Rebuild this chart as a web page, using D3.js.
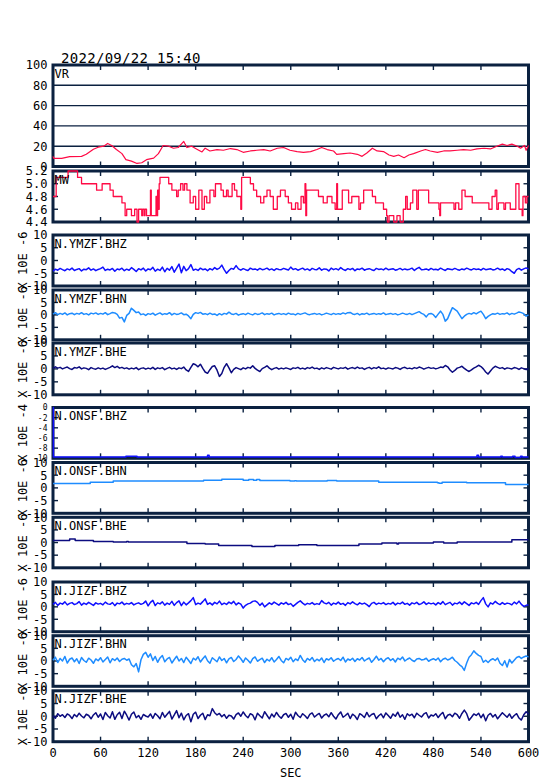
<!DOCTYPE html>
<html><head><meta charset="utf-8">
<script src="https://cdn.jsdelivr.net/npm/d3@7"></script>
<style>
body{margin:0;background:#fff;}
text{font-family:"DejaVu Sans Mono",monospace;}
</style>
</head><body>
<svg id="chart" width="554" height="781"></svg>
<script>
// ---------------- DATA ----------------
const titleText = "2022/09/22 15:40";
const xTickValues = [0,60,120,180,240,300,360,420,480,540,600];
const xLabel = "SEC";

const vrTicks = [0,20,40,60,80,100];
const mwTicks = [4.4,4.6,4.8,5.0,5.2];
const seisTicks = [-10,-5,0,5,10];
const onsfZTicks = [-10,-8,-6,-4,-2,0];

const vrTime = [0,1,11,21,36,42,51,57,64,69,74,80,87,92,99,106,112,118,127,133,139,146,152,158,165,169,175,181,188,192,198,207,215,224,232,240,249,257,266,274,283,291,299,308,316,325,333,339,346,354,358,367,375,384,390,396,403,409,417,424,430,436,443,449,455,464,470,476,485,493,501,510,518,527,535,544,552,560,567,573,579,586,590,595,597,600];
const vrValue = [10,8,8,9.7,10,12,17,19,20,22.7,20.7,16.7,12.7,6.7,5.3,3,3.7,6.7,8.3,12.7,20.7,20,18,18.7,24.7,18.7,20,17.3,14.3,18,15.3,16.7,16,17.7,16.7,14,15.3,16,16.7,15.3,18,18.7,16,14.7,14,14.7,16.7,18.7,16.7,15.3,12,12.7,13.3,12,10,13.3,18,15.3,14.7,11.3,10,11.3,8.7,11.3,12.7,15.3,16.7,15.3,14,15.3,15.3,16,16.7,16,17.3,18,17.3,20,22,20.7,22,20,18,20.7,16,20.7];

const mwTime = [0,4,19,31,36,55,62,72,76,87,91,93,99,103,106,108,112,113,115,116,118,123,124,130,131,132,133,134,135,146,150,156,158,161,164,166,169,173,177,180,184,188,191,194,198,203,205,212,215,219,221,226,229,232,237,238,249,253,257,262,266,270,274,278,283,287,293,297,301,306,309,313,316,318,319,320,335,341,346,352,356,358,359,365,373,377,386,388,392,403,407,417,421,422,424,430,434,438,442,445,447,451,454,459,461,474,487,488,489,506,508,512,516,520,529,550,554,558,560,562,569,571,577,584,588,592,593,596,598,600];
const mwValue = [4.8,5.1,5.2,5.1,5.0,4.9,5.0,4.9,4.8,4.7,4.5,4.6,4.5,4.6,4.4,4.6,4.5,4.6,4.5,4.6,4.5,4.9,4.5,4.8,4.5,4.9,4.6,5.0,5.1,5.0,4.9,4.8,4.9,5.0,4.9,5.0,4.9,4.7,4.8,4.6,4.9,4.6,4.8,4.7,4.9,4.8,5.0,4.9,4.8,4.9,4.8,5.0,4.9,4.8,4.6,5.1,5.0,4.9,4.8,4.7,4.8,4.9,4.8,4.6,4.8,4.9,4.8,4.7,4.6,4.7,4.6,4.8,4.7,5.0,4.5,4.9,4.8,4.7,4.8,4.7,4.6,5.0,4.6,4.9,4.7,4.8,4.6,4.7,4.9,4.8,4.7,4.6,4.5,4.4,4.5,4.4,4.5,4.4,4.6,4.8,4.6,4.7,4.9,4.6,4.9,4.7,4.6,4.5,4.7,4.6,4.7,4.6,4.9,4.8,4.7,4.6,4.8,4.9,4.6,4.7,4.6,4.7,4.6,5.0,4.6,4.5,4.8,4.7,4.8,4.8];

// seismograms sampled every 3 s (x 10E-6)
const ymzfBHZ = [-4.2,-3.4,-3.8,-3.1,-3.6,-4.0,-3.3,-3.7,-3.0,-3.9,-3.5,-3.2,-4.1,-3.4,-3.6,-2.9,-3.8,-3.3,-4.0,-3.5,
-3.2,-2.6,-3.9,-3.4,-3.7,-3.1,-4.2,-3.3,-3.6,-3.0,-4.0,-3.4,-3.8,-2.8,-3.5,-4.3,-3.2,-3.7,-3.0,-4.1,
-3.3,-3.6,-2.7,-4.2,-3.4,-3.9,-2.6,-4.4,-3.1,-3.8,-2.4,-4.6,-3.0,-1.4,-4.8,-2.3,-4.0,-3.2,-1.6,-3.8,
-3.4,-3.9,-3.0,-3.6,-3.3,-4.0,-3.2,-3.7,-2.8,-3.5,-3.0,-1.8,-3.6,-5.0,-3.9,-3.1,-3.4,-2.0,-3.3,-3.8,
-3.2,-3.6,-3.9,-3.0,-3.5,-3.3,-3.8,-3.1,-3.6,-3.4,-3.0,-3.7,-3.3,-3.9,-3.2,-3.5,-3.6,-3.1,-3.4,-3.7,
-2.6,-3.5,-3.2,-3.8,-3.4,-3.0,-3.7,-3.3,-3.9,-3.1,-3.5,-3.6,-2.9,-3.8,-3.3,-3.4,-4.1,-3.0,-3.6,-3.2,
-3.7,-2.8,-3.5,-3.9,-3.2,-3.6,-3.1,-4.0,-3.3,-3.5,-3.0,-3.8,-3.4,-3.2,-3.6,-3.9,-3.1,-3.5,-3.3,-3.7,
-3.0,-3.6,-3.4,-3.2,-3.8,-3.5,-3.1,-3.7,-3.3,-3.6,-3.4,-3.0,-3.9,-3.2,-2.7,-3.6,-3.5,-3.3,-3.8,-3.1,
-3.6,-3.4,-3.7,-3.0,-3.5,-3.9,-3.2,-3.4,-3.6,-3.1,-3.5,-3.8,-3.3,-3.6,-3.0,-3.4,-3.7,-3.2,-3.5,-3.3,
-3.8,-3.1,-3.6,-3.4,-3.2,-3.7,-3.5,-3.0,-3.6,-3.3,-3.9,-3.2,-3.5,-4.4,-5.0,-3.6,-3.1,-3.8,-3.3,-2.9,-3.4];
const ymzfBHN = [0.3,0.9,0.1,0.6,0.2,0.8,0.0,0.5,0.7,0.1,0.6,0.3,0.9,0.2,0.5,0.0,0.7,0.4,0.8,0.2,
0.6,0.3,0.9,0.1,0.5,1.0,0.8,0.2,-1.3,-1.0,-2.8,-0.2,0.6,2.7,1.8,0.9,1.2,0.1,0.4,-0.2,
0.5,0.2,0.7,-0.1,0.4,0.8,0.1,0.5,0.3,0.9,0.0,0.6,0.2,0.4,0.8,0.1,0.3,-0.4,-1.5,0.2,
0.9,0.6,1.0,0.3,0.5,0.1,0.7,0.2,0.4,-0.2,0.5,0.0,0.6,0.3,1.1,0.4,0.2,0.6,-0.1,0.3,
0.5,0.1,0.7,0.3,0.0,0.6,0.2,0.4,0.8,0.1,0.5,0.3,0.7,0.0,0.4,0.6,0.2,0.5,0.1,0.7,
0.3,0.4,0.0,0.6,0.2,0.5,0.8,0.3,0.1,0.4,0.6,0.2,0.5,0.0,0.3,0.7,0.4,0.1,0.6,0.2,
0.5,0.3,0.8,0.4,0.9,1.0,0.4,0.2,0.6,0.0,0.5,0.3,0.7,0.1,0.4,0.6,0.2,0.5,0.3,0.8,
0.1,0.4,0.6,0.2,0.5,0.0,0.3,0.7,0.4,0.2,0.6,0.1,0.5,0.9,1.3,0.6,0.2,-0.8,0.4,0.6,
0.1,-1.0,0.3,1.5,0.2,-2.5,-1.5,0.8,2.9,2.2,1.5,0.0,-1.5,-0.5,0.2,0.6,0.3,0.9,0.4,1.0,
1.5,0.2,-1.5,-0.6,0.0,0.5,0.3,0.7,0.2,0.5,0.4,0.8,0.1,0.6,0.3,0.7,1.2,0.9,0.5,-0.5,0.0];
const ymzfBHE = [0.2,0.8,0.3,0.6,0.0,0.4,0.7,0.1,-0.2,0.5,0.3,0.8,0.0,0.4,0.2,-0.3,0.5,0.1,-0.1,0.4,
0.0,0.3,-0.2,0.2,0.6,1.2,0.5,1.0,0.3,0.6,0.1,0.4,-0.1,0.3,0.0,0.5,-0.3,0.2,0.4,-0.1,
0.3,0.0,0.6,-0.2,0.4,0.1,0.5,-0.3,0.2,0.6,0.0,0.3,-0.2,0.4,0.1,0.7,-0.4,-1.0,0.6,2.0,
1.6,0.8,1.8,0.2,-1.2,-1.7,-0.3,0.9,1.2,-0.5,-2.9,-1.8,0.6,2.0,0.4,-1.5,-0.2,0.5,0.1,-0.3,
0.4,0.0,0.6,0.3,1.2,0.2,-0.5,-1.0,0.1,0.6,1.2,0.3,-0.3,0.2,0.5,-0.1,0.3,0.0,0.4,0.1,
-0.2,0.4,0.2,0.6,0.0,0.3,-0.1,0.5,0.2,0.7,0.1,0.3,-0.2,0.4,0.0,0.5,0.2,-0.1,0.6,0.3,
0.0,0.4,0.2,0.6,-0.1,0.3,0.5,0.1,0.7,0.2,0.4,-0.2,0.3,0.6,0.0,0.5,0.2,0.8,0.1,0.3,
-0.1,0.4,0.2,0.0,0.5,0.3,-0.2,0.4,0.6,0.1,0.3,0.0,0.5,0.2,0.7,0.4,-0.1,0.3,0.6,0.2,
0.4,0.0,0.3,0.7,0.5,1.3,0.8,-0.4,-1.3,-0.6,0.3,0.6,1.0,0.2,-0.5,-1.0,-0.4,0.3,0.8,1.4,
0.9,0.0,-1.2,-2.0,-0.8,0.3,1.0,0.6,0.2,0.5,-0.1,0.4,0.2,0.0,0.5,0.3,-0.2,0.4,0.1,-0.3,0.2];

// N.ONSF (piecewise, time in s): BHZ in x 10E-4, others x 10E-6
const onsfBHZTime = [0,0.5,92,106,195,197,535,537,565,567,580,583,590,592,600];
const onsfBHZ = [0,-9.75,-9.6,-9.75,-9.4,-9.75,-9.4,-9.75,-9.6,-9.75,-9.6,-9.85,-9.6,-9.75,-9.75];
const onsfBHNTime = [0,47,76,190,213,240,247,253,257,261,299,305,307,346,358,411,485,487,491,522,525,571,600];
const onsfBHN = [1.75,2.27,2.67,3.06,3.45,3.06,3.3,3.06,3.3,2.93,2.67,2.85,2.67,2.93,2.67,2.27,2.0,1.8,2.27,2.0,2.0,1.36,1.36];
const onsfBHETime = [0,21,28,51,76,93,95,122,169,192,209,251,280,310,333,386,415,434,436,480,493,510,579,600];
const onsfBHE = [0.84,1.36,0.84,0.44,0.18,0.44,0.18,0.18,-0.35,-0.6,-1.13,-1.52,-1.13,-0.87,-1.13,-0.6,-0.2,-0.6,-0.2,0.18,-0.2,0.18,1.1,1.1];

const jizfBHZ = [1.0,1.8,0.6,1.5,1.1,2.0,0.8,1.4,1.7,0.9,1.3,2.1,0.7,1.5,1.0,1.8,1.2,0.6,1.6,1.1,
1.4,0.8,1.9,1.2,1.0,1.7,0.5,1.5,1.2,1.9,0.9,1.4,1.1,1.7,0.8,1.3,1.6,1.0,1.4,2.3,
0.4,1.8,2.6,0.5,1.6,1.2,2.0,0.7,1.5,1.0,2.2,0.6,1.7,2.4,0.5,1.9,0.8,1.6,2.5,3.7,
0.9,1.5,1.1,2.1,3.2,1.0,1.6,0.8,1.8,1.2,2.3,0.9,1.5,1.0,1.9,1.3,2.2,0.8,1.6,1.1,
-0.5,0.6,1.2,1.5,2.2,2.4,1.8,0.6,1.5,0.0,0.8,1.6,1.0,1.9,1.3,0.7,1.6,1.1,1.8,0.9,
1.3,0.2,1.0,1.8,2.4,1.5,0.8,1.4,1.1,1.7,0.9,1.3,1.0,2.5,1.6,1.2,1.8,0.7,1.5,1.1,
1.9,1.0,1.4,0.6,1.7,1.2,2.0,1.3,0.8,1.6,1.1,1.5,0.9,0.1,1.4,1.8,1.0,1.5,1.2,1.7,
0.9,1.4,1.1,1.8,0.8,1.5,1.2,1.9,1.0,1.4,0.7,1.6,1.2,1.8,0.9,1.3,2.0,1.0,1.6,1.2,
1.5,0.8,1.7,1.1,2.1,0.9,1.4,1.8,0.7,1.5,1.2,1.9,1.0,2.0,1.3,0.6,1.6,1.2,1.8,1.0,
2.5,3.7,1.2,0.0,1.6,1.1,2.2,1.4,0.9,1.7,1.0,1.5,1.3,0.8,1.9,1.2,2.3,1.0,0.2,0.6,0.8];
const jizfBHN = [0.3,1.5,-0.6,1.0,0.0,1.8,-0.8,0.7,1.2,-0.3,0.9,-1.0,1.4,0.2,-0.5,1.1,0.4,-0.9,0.8,0.1,
1.3,-0.4,0.6,1.6,-0.7,0.9,0.2,1.2,-0.2,0.7,1.0,0.3,0.8,-1.5,-2.3,-1.0,-4.3,0.5,2.6,3.4,
1.5,2.8,0.2,1.8,-0.5,1.2,2.2,-0.3,0.8,1.4,-0.8,0.6,1.9,0.0,1.0,-0.6,1.5,0.3,-1.0,1.1,
0.4,1.7,-0.4,0.9,2.0,0.1,-0.9,1.3,0.5,-0.3,1.6,0.2,1.0,-0.7,0.8,1.4,-0.2,0.6,2.0,0.9,
-0.5,1.2,0.3,-0.8,0.9,1.6,-0.1,0.5,1.1,-0.6,0.7,0.0,1.3,-0.4,0.6,1.8,0.2,-0.7,1.0,0.4,
1.5,-0.3,0.8,0.2,2.2,0.5,-0.5,1.0,0.3,1.4,-0.2,0.7,0.1,1.2,-0.6,0.9,0.4,1.3,-0.1,0.6,
1.0,0.2,1.5,-0.4,0.8,0.3,1.1,-0.2,0.9,0.4,1.4,0.0,0.7,1.2,-0.5,0.6,1.9,0.3,1.0,-0.3,
0.8,1.3,0.2,0.9,-0.4,1.1,0.5,1.6,0.0,0.7,1.2,0.3,-0.2,0.8,1.0,0.4,0.6,1.1,-0.1,0.5,
0.9,0.3,1.2,-0.3,0.7,1.1,0.4,0.8,1.5,0.2,-0.5,-1.5,-2.2,-3.7,-0.8,1.5,2.5,4.0,3.0,2.2,
1.8,-0.5,0.3,-0.6,0.4,0.9,0.2,1.2,-0.9,-1.8,0.1,-2.4,0.6,-0.8,0.3,1.4,1.8,1.0,1.6,2.0,1.5];
const jizfBHE = [0.2,-0.8,1.0,0.0,0.6,-0.5,0.9,0.3,-0.9,0.7,-0.2,1.2,0.1,-0.6,0.8,0.3,-1.0,0.5,1.4,-0.4,
0.9,-1.3,1.5,0.2,-0.7,1.8,-1.2,0.6,1.6,-0.9,2.0,0.4,-1.5,0.8,1.7,-0.6,0.3,-1.2,0.7,0.1,
-0.3,0.9,-0.8,1.1,0.2,-1.0,1.5,-0.4,0.8,1.9,-1.1,0.5,2.2,-0.6,1.2,-1.4,0.3,1.0,-2.2,0.8,
1.6,-0.9,0.4,1.2,-1.3,0.6,0.2,3.0,1.4,0.5,1.1,-0.2,0.7,-0.8,0.4,0.1,-1.1,0.6,1.3,0.0,
1.7,0.3,-0.6,1.0,0.5,-1.4,1.2,0.2,-0.7,1.8,0.4,-1.0,0.9,-0.3,1.5,0.1,-0.8,0.6,1.1,-0.4,
0.8,-1.2,1.6,0.3,-0.5,1.0,0.2,-0.9,0.7,1.3,-0.3,0.5,1.1,-0.7,0.4,0.9,-0.2,1.4,0.0,-1.1,
0.6,1.7,-0.4,0.3,1.2,-0.9,0.8,0.1,-1.3,1.0,0.4,-0.5,1.5,-0.2,0.7,1.1,-1.0,0.2,0.9,-0.6,
1.3,0.3,-0.8,0.9,0.0,1.6,-0.4,0.6,-1.2,1.0,0.2,0.8,-0.6,1.2,0.4,-0.3,0.9,1.4,-0.7,0.5,
0.1,1.0,-0.5,0.7,1.5,-1.0,0.4,0.8,-0.2,1.2,0.6,-0.8,1.1,2.4,1.0,-1.6,-0.4,0.9,0.3,1.2,
-0.6,0.8,-1.8,0.4,1.1,-0.3,0.7,-1.0,0.2,1.4,0.5,-0.4,0.9,-0.8,0.3,1.0,-0.7,-1.5,0.6,1.8,0.9];

// ---------------- DRAWING ----------------
const FRAME = "#0b2140";
const RED = "#ff0a45", BLUE = "#1010ff", LBLUE = "#1e8cff", NAVY = "#0c0c80";
const svg = d3.select("#chart");
const x = d3.scaleLinear().domain([0,600]).range([53,528.5]);

function uniform(arr){ const st = 600/(arr.length-1); return arr.map((v,i)=>[i*st,v]); }
function paired(t,v){ return d3.zip(t,v); }

const panels = [
  {name:"VR", top:65, bottom:166.5, domain:[0,100], ticks:vrTicks, grid:true, data:paired(vrTime,vrValue), color:RED, curve:d3.curveLinear, fmt:d=>String(d), width:1.2},
  {name:"MW", top:171, bottom:222, domain:[4.4,5.2], ticks:mwTicks, data:paired(mwTime,mwValue), color:RED, curve:d3.curveStepAfter, fmt:d=>d.toFixed(1), width:1.3},
  {name:"N.YMZF.BHZ", top:235, bottom:286, domain:[-10,10], ticks:seisTicks, data:uniform(ymzfBHZ), color:BLUE, title:"X 10E -6"},
  {name:"N.YMZF.BHN", top:290, bottom:339.8, domain:[-10,10], ticks:seisTicks, data:uniform(ymzfBHN), color:LBLUE, title:"X 10E -6"},
  {name:"N.YMZF.BHE", top:343, bottom:394.8, domain:[-10,10], ticks:seisTicks, data:uniform(ymzfBHE), color:NAVY, title:"X 10E -6"},
  {name:"N.ONSF.BHZ", top:407.5, bottom:458.3, domain:[-10,0], ticks:onsfZTicks, data:paired(onsfBHZTime,onsfBHZ), color:BLUE, title:"X 10E -4", curve:d3.curveStepAfter, small:true},
  {name:"N.ONSF.BHN", top:462.5, bottom:513.3, domain:[-10,10], ticks:seisTicks, data:paired(onsfBHNTime,onsfBHN), color:LBLUE, title:"X 10E -6", curve:d3.curveStepAfter},
  {name:"N.ONSF.BHE", top:517.3, bottom:567.8, domain:[-10,10], ticks:seisTicks, data:paired(onsfBHETime,onsfBHE), color:NAVY, title:"X 10E -6", curve:d3.curveStepAfter},
  {name:"N.JIZF.BHZ", top:582, bottom:631.7, domain:[-10,10], ticks:seisTicks, data:uniform(jizfBHZ), color:BLUE, title:"X 10E -6"},
  {name:"N.JIZF.BHN", top:635.7, bottom:686.3, domain:[-10,10], ticks:seisTicks, data:uniform(jizfBHN), color:LBLUE, title:"X 10E -6"},
  {name:"N.JIZF.BHE", top:690.8, bottom:741.7, domain:[-10,10], ticks:seisTicks, data:uniform(jizfBHE), color:NAVY, title:"X 10E -6"}
];

const defs = svg.append("defs");
const x0 = x.range()[0], x1 = x.range()[1];

panels.forEach((p,pi)=>{
  const y = d3.scaleLinear().domain(p.domain).range([p.bottom,p.top]);
  const g = svg.append("g");
  g.append("rect").attr("x",x0).attr("y",p.top).attr("width",x1-x0).attr("height",p.bottom-p.top)
    .attr("fill","none").attr("stroke",FRAME).attr("stroke-width",3);
  if(p.grid){
    g.selectAll("line.grid").data(p.ticks.filter(t=>t>p.domain[0]&&t<p.domain[1])).join("line")
      .attr("x1",x0).attr("x2",x1).attr("y1",d=>y(d)).attr("y2",d=>y(d))
      .attr("stroke",FRAME).attr("stroke-width",1.4);
  } else {
    const inner = p.ticks.filter(t=>t>p.domain[0]&&t<p.domain[1]);
    [[x0,5],[x1,-5]].forEach(([xx,len])=>{
      g.selectAll(null).data(inner).join("line")
        .attr("x1",xx).attr("x2",xx+len).attr("y1",d=>y(d)).attr("y2",d=>y(d))
        .attr("stroke",FRAME).attr("stroke-width",1.4);
    });
  }
  const xin = xTickValues.slice(1,-1);
  g.selectAll(null).data(xin).join("line")
    .attr("x1",d=>x(d)).attr("x2",d=>x(d)).attr("y1",p.top).attr("y2",p.top+5)
    .attr("stroke",FRAME).attr("stroke-width",1.4);
  g.selectAll(null).data(xin).join("line")
    .attr("x1",d=>x(d)).attr("x2",d=>x(d)).attr("y1",p.bottom).attr("y2",p.bottom-5)
    .attr("stroke",FRAME).attr("stroke-width",1.4);
  g.selectAll(null).data(p.ticks).join("text")
    .attr("x",47.5).attr("y",d=>y(d)).attr("dy","0.36em")
    .attr("text-anchor","end").attr("font-size",p.small?8:12).attr("fill","#000")
    .text(p.fmt||(d=>String(d)));
  const cid = "clip"+pi;
  defs.append("clipPath").attr("id",cid).append("rect")
    .attr("x",x0-1.5).attr("y",p.top-1.5).attr("width",x1-x0+3).attr("height",p.bottom-p.top+3);
  const line = d3.line().x(d=>x(d[0])).y(d=>y(d[1])).curve(p.curve||d3.curveLinear);
  g.append("path").datum(p.data).attr("d",line).attr("clip-path",`url(#${cid})`)
    .attr("fill","none").attr("stroke",p.color).attr("stroke-width",p.width||1.5)
    .attr("stroke-linejoin","round");
  g.append("text").attr("x",x0+1.5).attr("y",p.top+12.5).attr("font-size",12).attr("fill","#000").text(p.name);
  if(p.title){
    g.append("text").attr("transform",`translate(27,${(p.top+p.bottom)/2}) rotate(-90)`)
      .attr("text-anchor","middle").attr("font-size",12).attr("fill","#000").text(p.title);
  }
});

const last = panels[panels.length-1];
svg.selectAll("text.xl").data(xTickValues).join("text").attr("class","xl")
  .attr("x",d=>x(d)).attr("y",last.bottom+15.5).attr("text-anchor","middle")
  .attr("font-size",12).attr("fill","#000").text(d=>d);
svg.append("text").attr("x",(x0+x1)/2).attr("y",777).attr("text-anchor","middle")
  .attr("font-size",12).attr("fill","#000").text(xLabel);
svg.append("text").attr("x",61).attr("y",62.5).attr("font-size",14).attr("letter-spacing",0.3)
  .attr("fill","#000").text(titleText);
</script>
</body></html>
